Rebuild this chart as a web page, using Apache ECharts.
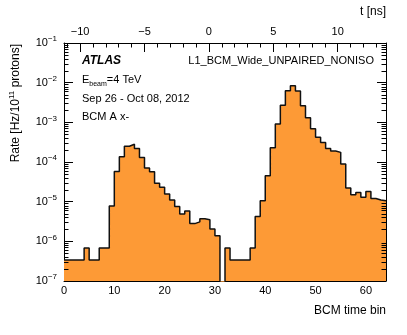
<!DOCTYPE html>
<html>
<head>
<meta charset="utf-8">
<script src="https://cdn.jsdelivr.net/npm/echarts@6/dist/echarts.min.js"></script>
<style>
  html, body { margin: 0; padding: 0; background: #fff; }
  #chart { width: 407px; height: 335px; }
</style>
</head>
<body>
<div id="chart"></div>
<script>
// BCM time bin index (0..63), lower bin edges
var bins = [];
for (var b = 0; b < 64; b++) bins.push(b);

// rate per bin [Hz/1e11 protons]; 0 = empty bin
var rates = [
  3.4e-7, 3.4e-7, 3.4e-7, 3.4e-7, 6.8e-7, 3.4e-7, 3.4e-7, 6.8e-7,
  6.8e-7, 7.8e-6, 5.8e-5, 1.36e-4, 2.5e-4, 2.8e-4, 2.2e-4, 1.3e-4,
  7.1e-5, 5.7e-5, 2.9e-5, 2.3e-5, 1.55e-5, 1.1e-5, 7.5e-6, 4.9e-6,
  5.8e-6, 2.8e-6, 3.1e-6, 3.7e-6, 3.5e-6, 2.05e-6, 1.38e-6, 0,
  6.8e-7, 3.4e-7, 3.4e-7, 3.4e-7, 3.4e-7, 6.8e-7, 4.2e-6, 1.05e-5,
  4.5e-5, 2.3e-4, 9.1e-4, 2.7e-3, 6.3e-3, 8.4e-3, 6.2e-3, 2.6e-3,
  1.3e-3, 6.9e-4, 4.2e-4, 3.1e-4, 2.2e-4, 1.9e-4, 1.75e-4, 8.9e-5,
  2.2e-5, 1.5e-5, 1.7e-5, 1.3e-5, 1.8e-5, 1.2e-5, 1.1e-5, 1.05e-5
];

// axis ranges
var binRange = [0, 64];
var nsPerBin = 25 / 64;
var nsZeroBin = 28.8;
var nsRange = [(binRange[0] - nsZeroBin) * nsPerBin, (binRange[1] - nsZeroBin) * nsPerBin];
var rateRange = [1e-7, 1e-1];

// minor log ticks 2..9 per decade
var minorTickVals = [];
for (var e = -7; e < -1; e++) {
  for (var k = 2; k <= 9; k++) minorTickVals.push(k * Math.pow(10, e));
}

var FONT = "'Liberation Sans', Arial, Helvetica, sans-serif";
var ORANGE = '#fd9a36';

// step outline: one point per bin + closing edge
var histData = [];
for (var i = 0; i < bins.length; i++) {
  histData.push([bins[i], rates[i] > 0 ? rates[i] : 1e-9]);
}
histData.push([binRange[1], histData[histData.length - 1][1]]);

function minus(n) {
  return (n < 0 ? '\u2212' : '') + Math.abs(n);
}

var chart = echarts.init(document.getElementById('chart'));

var option = {
  animation: false,
  textStyle: { fontFamily: FONT },
  grid: { left: 64, right: 21, top: 43, bottom: 54 },
  xAxis: [{
    type: 'value',
    position: 'bottom',
    min: binRange[0],
    max: binRange[1],
    interval: 10,
    axisLine: { show: true, onZero: false, lineStyle: { color: '#000', width: 1 } },
    axisTick: { show: true, inside: true, length: 9, lineStyle: { color: '#000' } },
    minorTick: { show: true, splitNumber: 5, length: 4.5, lineStyle: { color: '#000' } },
    splitLine: { show: false },
    axisLabel: { color: '#000', fontSize: 11, margin: 4, showMaxLabel: false, fontFamily: FONT }
  }, {
    type: 'value',
    position: 'top',
    min: nsRange[0],
    max: nsRange[1],
    splitNumber: 5,
    axisLine: { show: true, onZero: false, lineStyle: { color: '#000', width: 1 } },
    axisTick: { show: true, inside: true, length: 9, lineStyle: { color: '#000' } },
    minorTick: { show: true, splitNumber: 5, length: 4.5, lineStyle: { color: '#000' } },
    splitLine: { show: false },
    axisLabel: {
      color: '#000', fontSize: 11, margin: 6, fontFamily: FONT,
      showMinLabel: false, showMaxLabel: false,
      formatter: function (v) { return minus(Math.round(v)); }
    }
  }],
  yAxis: [{
    type: 'log',
    logBase: 10,
    min: rateRange[0],
    max: rateRange[1],
    axisLine: { show: true, onZero: false, lineStyle: { color: '#000', width: 1 } },
    axisTick: { show: true, inside: true, length: 9, lineStyle: { color: '#000' } },
    splitLine: { show: false },
    axisLabel: {
      color: '#000', fontSize: 11, margin: 7, lineHeight: 16, fontFamily: FONT,
      formatter: function (v) {
        return '10{sup|' + minus(Math.round(Math.log10(v))) + '}';
      },
      rich: { sup: { fontSize: 8, verticalAlign: 'top', lineHeight: 16, fontFamily: FONT } }
    }
  }, {
    type: 'log',
    logBase: 10,
    position: 'right',
    min: rateRange[0],
    max: rateRange[1],
    axisLine: { show: true, onZero: false, lineStyle: { color: '#000', width: 1 } },
    axisTick: { show: true, inside: true, length: 9, lineStyle: { color: '#000' } },
    splitLine: { show: false },
    axisLabel: { show: false }
  }],
  series: [{
    name: 'rate',
    type: 'line',
    xAxisIndex: 0,
    yAxisIndex: 0,
    step: 'end',
    symbol: 'none',
    data: histData,
    lineStyle: { color: '#111', width: 1.5 },
    areaStyle: { color: ORANGE, opacity: 1 },
    z: 2
  }, {
    name: 'minor ticks',
    type: 'custom',
    xAxisIndex: 0,
    yAxisIndex: 0,
    silent: true,
    data: minorTickVals.map(function (v) { return [0, v]; }),
    renderItem: function (params, api) {
      var y = Math.round(api.coord([0, api.value(1)])[1]) + 0.5;
      var cs = params.coordSys;
      return {
        type: 'group',
        children: [
          { type: 'line', shape: { x1: cs.x, y1: y, x2: cs.x + 4.5, y2: y }, style: { stroke: '#000', lineWidth: 1 } },
          { type: 'line', shape: { x1: cs.x + cs.width, y1: y, x2: cs.x + cs.width - 4.5, y2: y }, style: { stroke: '#000', lineWidth: 1 } }
        ]
      };
    },
    z: 5
  }],
  graphic: [
    { type: 'text', x: 82, y: 61, style: { text: 'ATLAS', font: 'italic bold 12px ' + FONT, fill: '#000', verticalAlign: 'middle' } },
    { type: 'text', x: 374, y: 61, style: { text: 'L1_BCM_Wide_UNPAIRED_NONISO', font: '11px ' + FONT, fill: '#000', align: 'right', verticalAlign: 'middle' } },
    { type: 'text', x: 82, y: 80, style: {
      text: 'E{sub|beam}=4 TeV', font: '11px ' + FONT, fill: '#000', verticalAlign: 'middle', lineHeight: 16,
      rich: { sub: { fontSize: 7, verticalAlign: 'bottom', lineHeight: 16, fontFamily: FONT } }
    } },
    { type: 'text', x: 82, y: 99, style: { text: 'Sep 26 - Oct 08, 2012', font: '11px ' + FONT, fill: '#000', verticalAlign: 'middle' } },
    { type: 'text', x: 82, y: 117, style: { text: 'BCM A x-', font: '11px ' + FONT, fill: '#000', verticalAlign: 'middle' } },
    { type: 'text', x: 16, y: 44, rotation: Math.PI / 2, style: {
      text: 'Rate [Hz/10{sup|11} protons]', font: '12px ' + FONT, fill: '#000', align: 'right', verticalAlign: 'middle', lineHeight: 16,
      rich: { sup: { fontSize: 8, verticalAlign: 'top', lineHeight: 16, fontFamily: FONT } }
    } },
    { type: 'text', x: 386, y: 311, style: { text: 'BCM time bin', font: '12px ' + FONT, fill: '#000', align: 'right', verticalAlign: 'middle' } },
    { type: 'text', x: 386, y: 12, style: { text: 't [ns]', font: '12px ' + FONT, fill: '#000', align: 'right', verticalAlign: 'middle' } }
  ]
};

chart.setOption(option);
</script>
</body>
</html>
